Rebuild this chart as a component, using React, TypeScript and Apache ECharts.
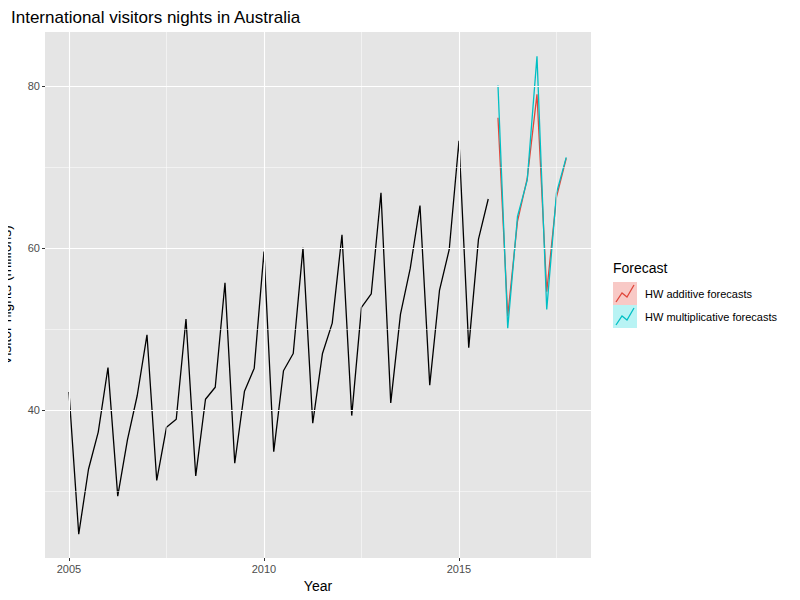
import React, { useEffect, useRef } from 'react';
import * as echarts from 'echarts';

const startYear = 2005;
const observed: number[] = [
  42.21, 24.65, 32.67, 37.26, 45.24, 29.35, 36.34, 41.78, 49.28, 31.28, 37.85, 38.84,
  51.24, 31.84, 41.32, 42.80, 55.71, 33.41, 42.32, 45.16, 59.58, 34.84, 44.84, 46.97,
  60.02, 38.37, 46.98, 50.73, 61.65, 39.30, 52.67, 54.33, 66.83, 40.87, 51.83, 57.49,
  65.25, 43.06, 54.76, 59.83, 73.26, 47.70, 61.10, 66.06,
];
const additive: number[] = [76.1, 51.6, 63.3, 68.6, 79.0, 54.6, 66.3, 71.1];
const multiplicative: number[] = [80.1, 50.1, 63.9, 68.4, 83.7, 52.4, 66.8, 71.2];
const xTicks = [2005, 2010, 2015];
const xMinor = [2007.5, 2012.5, 2017.5];
const yTicks = [40, 60, 80];
const yMinor = [30, 50, 70];

const toPairs = (vals: number[], start: number) => vals.map((v, i) => [start + i * 0.25, v]);

const App: React.FC = () => {
  const ref = useRef<HTMLDivElement>(null);
  useEffect(() => {
    if (!ref.current) return;
    const chart = echarts.init(ref.current, null, { renderer: 'svg' });
    const grid = (v: number[], axis: 'xAxis' | 'yAxis', w: number) =>
      v.map((x) => ({ [axis]: x, lineStyle: { color: '#fff', width: w, type: 'solid' } }));
    chart.setOption({
      animation: false,
      textStyle: { fontFamily: 'Liberation Sans, Arial, sans-serif' },
      title: {
        text: 'International visitors nights in Australia',
        left: 6, top: 4,
        textStyle: { fontSize: 17, fontWeight: 'normal', color: '#000' },
      },
      grid: {
        left: 45, right: 209, top: 32, bottom: 42, show: true, backgroundColor: '#e5e5e5', borderWidth: 0,
        containLabel: false, outerBoundsMode: 'none',
      },
      xAxis: {
        type: 'value', min: 2004.385, max: 2018.385,
        name: 'Year', nameLocation: 'middle', nameGap: 21,
        nameTextStyle: { fontSize: 14, color: '#000' },
        splitLine: { show: false },
        axisLine: { show: false },
        axisTick: { show: true, length: 3, lineStyle: { color: '#333' }, customValues: xTicks },
        axisLabel: { customValues: xTicks, color: '#4d4d4d', fontSize: 11, margin: 5, formatter: (v: number) => String(v) },
      },
      yAxis: {
        type: 'value', min: 21.7, max: 86.7,
        name: 'Visitor nights (millions)', nameLocation: 'middle', nameGap: 32,
        nameTextStyle: { fontSize: 14, color: '#000' },
        splitLine: { show: false },
        axisLine: { show: false },
        axisTick: { show: true, length: 3, lineStyle: { color: '#333' }, customValues: yTicks },
        axisLabel: { customValues: yTicks, color: '#4d4d4d', fontSize: 11, margin: 5 },
      },
      series: [
        {
          type: 'line', data: [], silent: true,
          markLine: {
            silent: true, symbol: 'none', label: { show: false },
            data: [...grid(xMinor, 'xAxis', 0.5), ...grid(yMinor, 'yAxis', 0.5), ...grid(xTicks, 'xAxis', 1.1), ...grid(yTicks, 'yAxis', 1.1)],
          },
        },
        { type: 'line', data: toPairs(observed, startYear), showSymbol: false, lineStyle: { color: '#000', width: 1.3 } },
        { type: 'line', data: toPairs(additive, 2016), showSymbol: false, lineStyle: { color: '#e0463b', width: 1.3 } },
        { type: 'line', data: toPairs(multiplicative, 2016), showSymbol: false, lineStyle: { color: '#00bfc4', width: 1.3 } },
      ],
      graphic: [
        { type: 'text', left: 613, top: 261, style: { text: 'Forecast', fontSize: 14, fill: '#000', fontFamily: 'Liberation Sans, Arial' } },
        { type: 'rect', shape: { x: 613, y: 282, width: 24, height: 23 }, style: { fill: '#f8c9c6' } },
        { type: 'polyline', shape: { points: [[616, 302], [622, 293], [627, 297], [634, 285]] }, style: { stroke: '#e0463b', lineWidth: 1.3, fill: 'none' } },
        { type: 'rect', shape: { x: 613, y: 305, width: 24, height: 23 }, style: { fill: '#b8f3f4' } },
        { type: 'polyline', shape: { points: [[616, 325], [622, 316], [627, 320], [634, 308]] }, style: { stroke: '#00bfc4', lineWidth: 1.3, fill: 'none' } },
        { type: 'text', left: 645, top: 288, style: { text: 'HW additive forecasts', fontSize: 11, fill: '#000', fontFamily: 'Liberation Sans, Arial' } },
        { type: 'text', left: 645, top: 311, style: { text: 'HW multiplicative forecasts', fontSize: 11, fill: '#000', fontFamily: 'Liberation Sans, Arial' } },
      ],
    });
    return () => chart.dispose();
  }, []);
  return <div ref={ref} style={{ width: 800, height: 600, margin: -8 }} />;
};

export default App;
